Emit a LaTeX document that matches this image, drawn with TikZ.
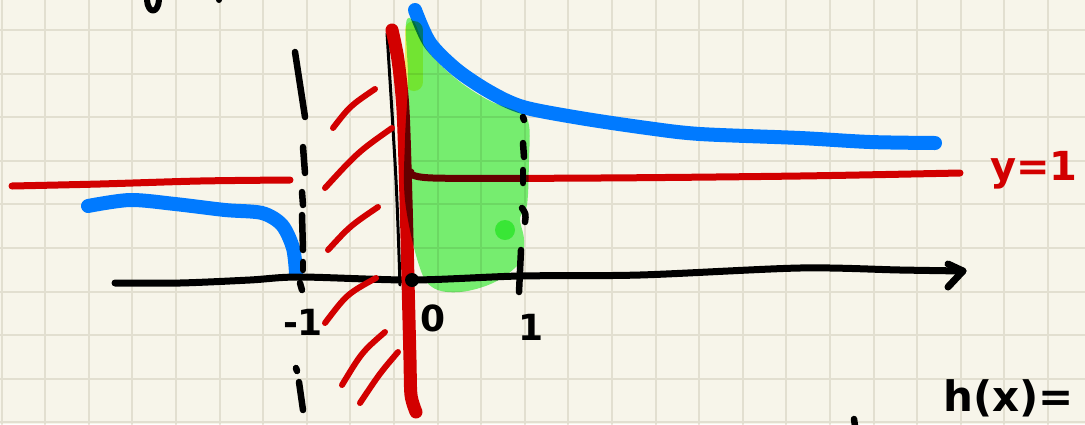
\documentclass[tikz,border=0pt]{standalone}
\usepackage{fontspec}
\setsansfont{DejaVu Sans}
\usetikzlibrary{calc}
\definecolor{papel}{RGB}{247,245,234}
\definecolor{grade}{RGB}{226,223,208}
\definecolor{azul}{RGB}{0,122,255}
\definecolor{vermelho}{RGB}{210,0,0}
\definecolor{verde}{RGB}{122,247,122}
\definecolor{verdeA}{RGB}{247,246,117}
\definecolor{verdeB}{RGB}{125,248,125}
\newcommand{\mao}[1]{\fontsize{#1}{#1}\selectfont\sffamily\bfseries}

\begin{document}
\begin{tikzpicture}[x=1pt, y=-1pt, line cap=round, line join=round,
  gr/.style={draw=grade, line width=2pt},
  eixo/.style={line width=7pt},
  traco/.style={line width=6.5pt},
  curva/.style={azul, line width=14pt},
  ass/.style={vermelho, line width=13pt},
  hor/.style={vermelho, line width=7pt},
  hach/.style={vermelho, line width=6pt},
  rot/.style={font=\mao{36}, inner sep=0pt}]
  \clip (0,0) rectangle (1085,424);
  \fill[papel] (0,0) rectangle (1085,424);
  \foreach \i in {0,...,24} \draw[gr] ({1.5+43.6*\i},0) -- ++(0,424);
  \foreach \j in {0,...,9} \draw[gr] (0,{30+43.6*\j}) -- ++(1085,0);
  % y = 1
  \draw[hor] plot[smooth] coordinates {(12,186) (100,184) (200,181) (290,180)};
  \draw[hor] plot[smooth] coordinates {(411,172) (433,178) (600,178) (800,176) (960,173)};
  % h(x)
  \draw[curva] plot[smooth] coordinates {(88,206) (130,200) (175,204) (225,210) (262,213) (282,225) (293,248) (296,273)};
  \draw[curva] plot[smooth] coordinates {(415,10) (430,43) (457,70) (490,92) (523,107) (580,118) (647,128) (700,134) (800,138) (870,142) (935,143)};
  % eixo x
  \coordinate (O) at (412,280);
  \coordinate (ponta) at (963,271);
  \draw[eixo] plot[smooth] coordinates {(115,283) (180,283) (250,280) (300,277) (O) (520,276) (640,275) (800,268) (900,270) (ponta)};
  \draw[eixo] (948,264) -- (ponta) -- (948,287);
  % x = -1
  \draw[traco] (295,52) -- (305,117);
  \draw[traco] (303,147) -- (305,173);
  \draw[traco] (302,192) -- (303,205);
  \draw[traco] (302,215) -- (303,250);
  \draw[traco] (303,262) -- (303,270);
  \draw[traco] (300,283) -- (302,290);
  \draw[traco] (296,368) -- (297,371);
  \draw[traco] (299,382) -- (303,410);
  % eixo y
  \draw[line width=3pt] plot[smooth] coordinates {(387,33) (396,180) (400,285)};
  \draw[ass] plot[smooth] coordinates {(392,30) (398,60) (403,110) (406,200) (408,280) (410,360) (411,395) (416,412)};
  % hachura
  \draw[hach] (333,128) .. controls (350,106) .. (375,89);
  \draw[hach] (325,188) .. controls (358,152) .. (392,128);
  \draw[hach] (328,250) .. controls (350,226) .. (378,207);
  \draw[hach] (325,323) .. controls (347,294) .. (376,278);
  \draw[hach] (342,385) .. controls (362,352) .. (385,332);
  \draw[hach] (360,403) .. controls (380,373) .. (398,352);
  % area
  \begin{scope}[blend mode=multiply]
    \fill[verde] plot[smooth cycle, tension=0.6] coordinates {(406,24) (414,22) (427,50) (455,78) (488,100) (520,113) (529,125) (529,160) (527,205) (520,218) (524,240) (520,262) (495,282) (460,292) (432,287) (418,262) (405,200) (405,140) (408,80)};
    \draw[verdeA, line width=18pt] (414,30) -- (414,82);
    \fill[verdeB] (505,230) circle (10);
  \end{scope}
  % x = 1
  \draw[traco] (523,117) -- (524,120);
  \draw[traco] (523,143) -- (524,157);
  \draw[traco] (523,170) -- (523,183);
  \draw[traco] (522,208) .. controls (526,214) .. (525,222);
  \draw[traco] (521,250) -- (519,292);
  \fill (O) circle (7);
  % textos
  \node[rot] (menos1) at (303,322) {-1};
  \node[rot] (zero) at (433,318) {0};
  \node[rot] (um) at (531,327) {1};
  \node[rot, vermelho, font=\mao{40}, anchor=west] (assint) at (990,170) {y=1};
  \node[rot, font=\mao{42}, anchor=base west] (hx) at (943,411) {h(x)=};
  \draw[line width=6pt] (147,0) .. controls (148,14) and (158,14) .. (159,0);
  \fill (219,0) circle (3);
  \draw[traco] (854,419) -- (855,426);
\end{tikzpicture}
\end{document}
